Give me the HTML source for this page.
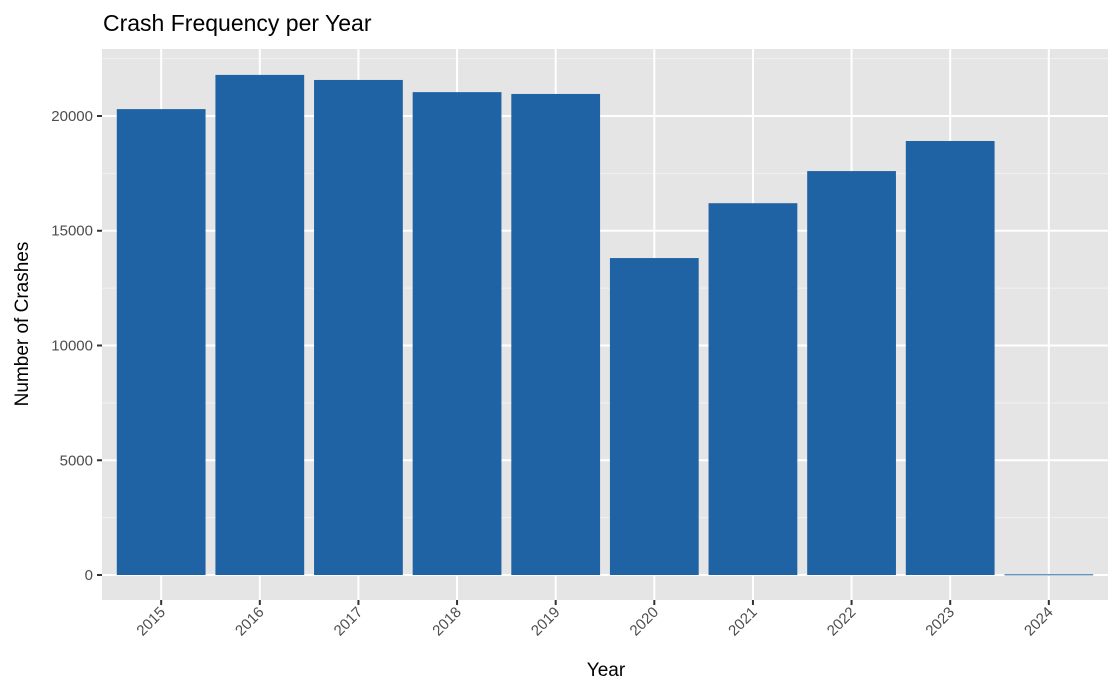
<!DOCTYPE html>
<html><head><meta charset="utf-8"><style>
body{margin:0;background:#fff}
svg text{font-family:"Liberation Sans",Arial,sans-serif}
</style></head><body>
<svg id="chart" width="1120" height="692" xmlns="http://www.w3.org/2000/svg">
<text x="103" y="31" font-size="23" fill="#000">Crash Frequency per Year</text>
<rect x="102" y="49" width="1006" height="551" fill="#e5e5e5"/>
<g id="grid"></g><g id="bars"></g><g id="axes"></g>
<text x="606" y="676" font-size="19" text-anchor="middle" fill="#000">Year</text>
<text transform="translate(28,324) rotate(-90)" font-size="19" text-anchor="middle" fill="#000">Number of Crashes</text>
</svg>
<script>
const categories=["2015","2016","2017","2018","2019","2020","2021","2022","2023","2024"];
const crashes=[20300,21790,21570,21040,20960,13810,16200,17600,18910,30];
const yTicks=[0,5000,10000,15000,20000];
const NS="http://www.w3.org/2000/svg";
const panelL=102,panelR=1108,panelT=49,panelB=600;
const yMin=-1089,yMax=22919;
function y(v){return panelB-(v-yMin)/(yMax-yMin)*(panelB-panelT);}
const step=(panelR-panelL)/(categories.length+0.2);
function x(i){return panelL+step*(0.6+i);}
function mk(tag,attrs,parent){const e=document.createElementNS(NS,tag);for(const k in attrs)e.setAttribute(k,attrs[k]);document.getElementById(parent).appendChild(e);return e;}
const grid="grid";
for(let v=2500;v<yMax;v+=5000){const l=mk("line",{x1:panelL,x2:panelR,y1:y(v),y2:y(v),stroke:"#f2f2f2","stroke-width":1},grid);

}
yTicks.forEach(v=>{const l=mk("line",{x1:panelL,x2:panelR,y1:y(v),y2:y(v),stroke:"#fff","stroke-width":2},grid);


const t=mk("line",{x1:panelL-5,x2:panelL,y1:y(v),y2:y(v),stroke:"#333","stroke-width":2},"axes");


const tx=mk("text",{x:panelL-9,y:y(v)+5,"font-size":15,"text-anchor":"end",fill:"#4d4d4d"},"axes");
tx.textContent=v;

});
categories.forEach((c,i)=>{const cx=x(i);
const g=mk("line",{x1:cx,x2:cx,y1:panelT,y2:panelB,stroke:"#fff","stroke-width":2},grid);


const w=step*0.9;
const b=mk("rect",{x:cx-w/2,y:y(crashes[i]),width:w,height:Math.max(1,y(0)-y(crashes[i])),fill:"#1f63a4"},"bars");


const t=mk("line",{x1:cx,x2:cx,y1:panelB,y2:panelB+5,stroke:"#333","stroke-width":2},"axes");


const tx=mk("text",{transform:`translate(${cx+5},${panelB+13}) rotate(-45)`,"font-size":15,"text-anchor":"end",fill:"#4d4d4d"},"axes");
tx.textContent=c;

});
</script>
</body></html>
